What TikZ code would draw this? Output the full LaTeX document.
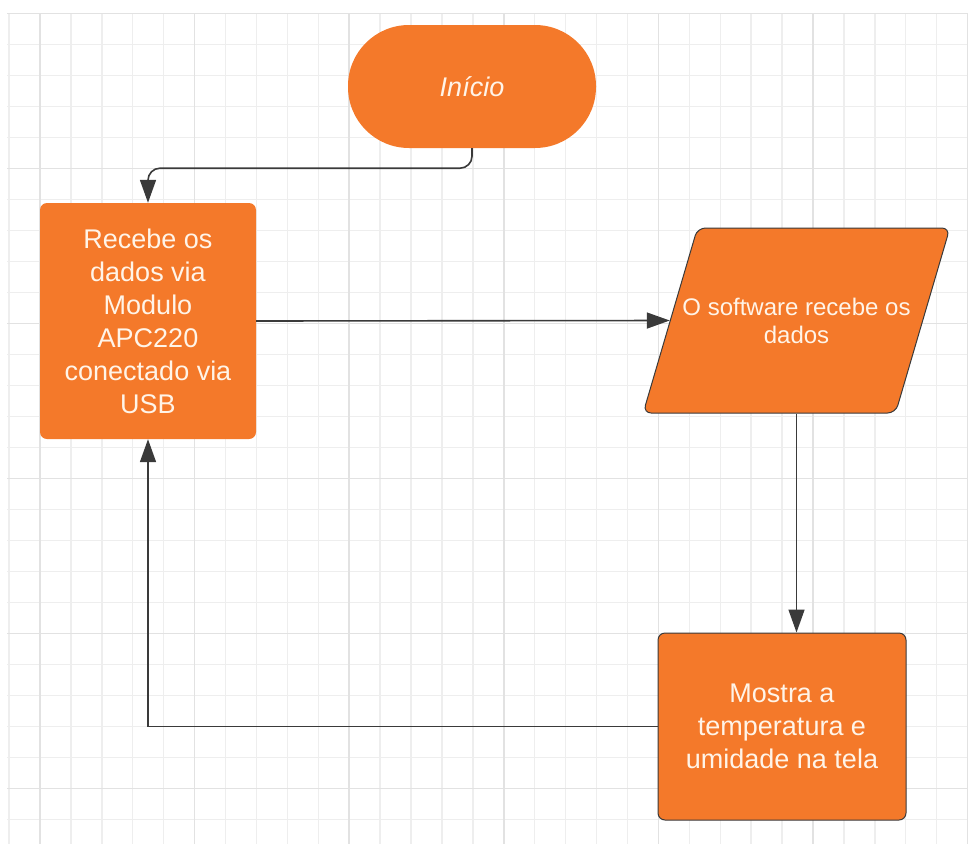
\documentclass[tikz,border=0pt]{standalone}
\usepackage{fontspec}
\setmainfont{Liberation Sans}
\usetikzlibrary{positioning,arrows.meta,shapes.geometric,calc}
\definecolor{lcorange}{RGB}{244,121,42}
\definecolor{lcink}{RGB}{58,58,58}
\definecolor{lcgrid}{RGB}{238,238,238}
\definecolor{lcmajor}{RGB}{226,226,226}
\definecolor{lctext}{RGB}{255,244,232}

\begin{document}
\begin{tikzpicture}[
  x=1pt, y=-1pt,
  >={Triangle[length=23pt, width=16pt]},
  minorline/.style={draw=lcgrid, line width=1.4pt},
  majorline/.style={draw=lcmajor, line width=1.6pt},
  block/.style={fill=lcorange, text=lctext, align=center, rounded corners=7pt,
               inner sep=0pt, font=\fontsize{27}{33}\selectfont},
  outlined/.style={draw=lcink, line width=1pt},
  flow/.style={->, draw=lcink, line width=1.6pt},
]
\useasboundingbox (0,0) rectangle (969,844);

% ---- grid paper ----
\foreach \k in {0,...,31}
  \draw[minorline] ({9.1+30.92*\k},13) -- ({9.1+30.92*\k},844);
\foreach \k in {0,...,26}
  \draw[minorline] (7,{13.3+31*\k}) -- (968,{13.3+31*\k});
\foreach \k in {1,6,...,31}
  \draw[majorline] ({9.1+30.92*\k},13) -- ({9.1+30.92*\k},844);
\foreach \k in {0,5,...,25}
  \draw[majorline] (7,{13.3+31*\k}) -- (968,{13.3+31*\k});

% ---- flowchart blocks ----
\node[block, rounded corners=61pt, minimum width=248pt, minimum height=123pt,
      font=\fontsize{27}{33}\selectfont\itshape] (start) at (472,86.5) {Início};
\node[block, minimum width=216pt, minimum height=236pt] (recv) at (148,321)
  {Recebe os\\dados via\\Modulo\\APC220\\conectado via\\USB};
\node[block, outlined, trapezium, trapezium left angle=73, trapezium right angle=107,
      trapezium stretches body, inner ysep=66pt, inner xsep=-15pt, minimum width=303pt,
      minimum height=185pt, rounded corners=8pt, font=\fontsize{24}{28}\selectfont]
  (soft) at (796.5,320.5) {O software recebe os\\dados};
\node[block, outlined, minimum width=248pt, minimum height=187pt] (show) at (782,726.5)
  {Mostra a\\temperatura e\\umidade na tela};

% ---- connectors ----
\draw[flow, rounded corners=12pt] (start.south) -- ++(0,20) -| (recv.north);
\draw[flow] (recv.east) -- (soft.west);
\draw[flow] (soft.south) -- (soft.south |- show.north);
\draw[flow] (show.west) -| (recv.south);

\end{tikzpicture}
\end{document}
